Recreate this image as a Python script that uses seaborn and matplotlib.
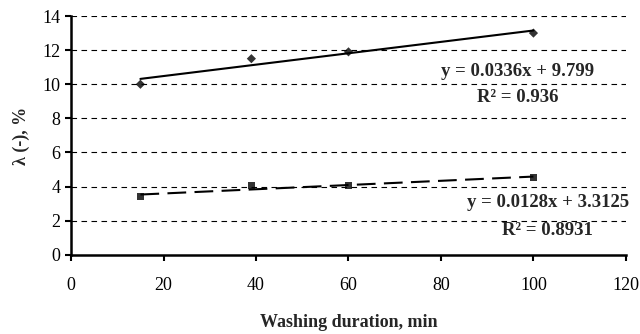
import numpy as np
import pandas as pd
import matplotlib
matplotlib.use("Agg")
import matplotlib.pyplot as plt
import seaborn as sns

# data
duration = [15, 39, 60, 100]
lam_upper = [10.0, 11.5, 11.9, 13.0]
lam_lower = [3.4, 4.05, 4.05, 4.55]

sns.set_style("white")
plt.rcParams['font.family'] = ['Liberation Serif', 'DejaVu Serif']

df = pd.DataFrame({"x": duration, "up": lam_upper, "low": lam_lower})

fig, ax = plt.subplots(figsize=(6.4, 3.34), dpi=100)
fig.subplots_adjust(left=0.111, right=0.978, top=0.952, bottom=0.237)

for y in range(2, 15, 2):
    ax.axhline(y, color="black", lw=0.8, ls=(0, (5, 4)), zorder=0)

sns.regplot(data=df, x="x", y="up", ax=ax, ci=None, marker="D",
            scatter_kws=dict(s=22, color="black", edgecolors="none", zorder=3),
            line_kws=dict(color="black", lw=1.5))
sns.regplot(data=df, x="x", y="low", ax=ax, ci=None, marker="s",
            scatter_kws=dict(s=24, color="black", edgecolors="none", zorder=3),
            line_kws=dict(color="black", lw=1.5, ls=(0, (9, 4))))

bold = dict(fontsize=13.5, fontweight="bold", ha="center", va="center")
ax.text(96.6, 10.75, "y = 0.0336x + 9.799", **bold)
ax.text(96.6, 9.2, "R² = 0.936", **bold)
ax.text(103.1, 3.05, "y = 0.0128x + 3.3125", **bold)
ax.text(103.1, 1.4, "R² = 0.8931", **bold)

ax.set_xlim(0, 120)
ax.set_ylim(0, 14)
ax.set_xticks(range(0, 121, 20))
ax.set_yticks(range(0, 15, 2))
ax.tick_params(axis="both", labelsize=13, direction="out", length=4, width=1.5,
               bottom=True, left=True, colors="black")
ax.tick_params(axis="x", pad=12)
for side in ["top", "right"]:
    ax.spines[side].set_visible(False)
for side in ["left", "bottom"]:
    ax.spines[side].set_linewidth(1.8)
    ax.spines[side].set_color("black")

ax.set_xlabel("Washing duration, min", fontsize=13, fontweight="bold", labelpad=14)
ax.set_ylabel("λ (-), %", fontsize=13, fontweight="bold", labelpad=9)

plt.savefig("out.png", dpi=100)
